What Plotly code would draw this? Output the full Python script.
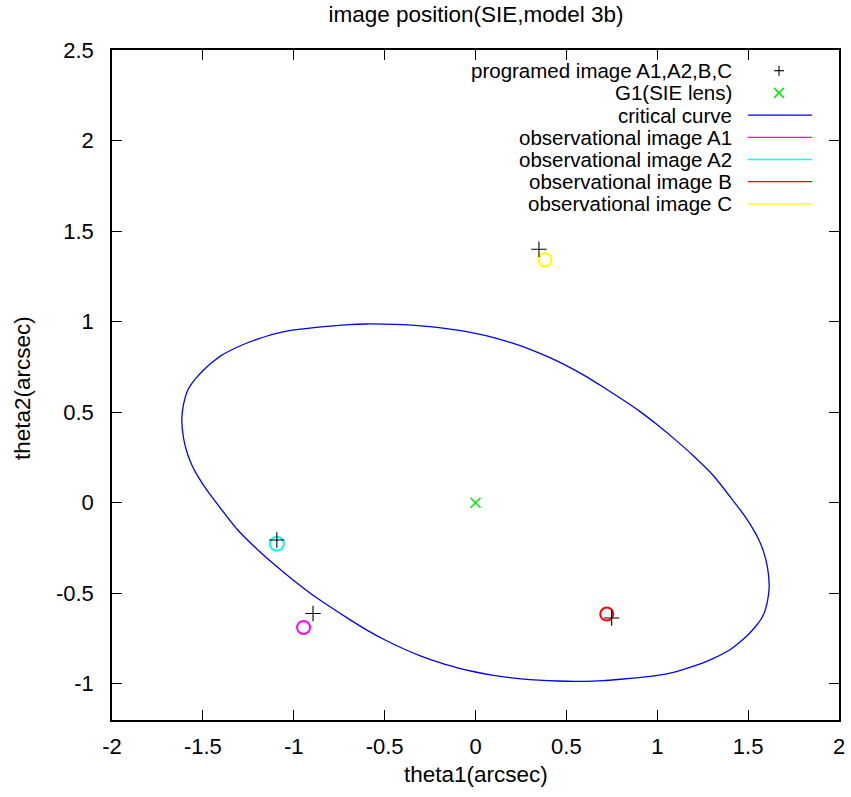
import plotly.graph_objects as go

# ---- data ----
curve_x = [1.616, 1.607, 1.585, 1.557, 1.524, 1.475, 1.414, 1.313, 1.2, 1.1, 1.0, 0.9, 0.8,
           0.7, 0.6, 0.5, 0.4, 0.3, 0.2, 0.1, 0.0, -0.1, -0.2, -0.3, -0.4, -0.5, -0.6,
           -0.7, -0.8, -0.9, -1.0, -1.1, -1.2, -1.3, -1.4, -1.45, -1.5, -1.54, -1.57,
           -1.59, -1.605, -1.613, -1.616,
           -1.607, -1.585, -1.557, -1.524, -1.475, -1.414, -1.313, -1.2, -1.1, -1.0, -0.9,
           -0.8, -0.7, -0.6, -0.5, -0.4, -0.3, -0.2, -0.1, 0.0, 0.1, 0.2, 0.3, 0.4, 0.5,
           0.6, 0.7, 0.8, 0.9, 1.0, 1.1, 1.2, 1.3, 1.4, 1.45, 1.5, 1.54, 1.57, 1.59,
           1.605, 1.613, 1.616]
curve_y = [-0.46, -0.36, -0.27, -0.20, -0.14, -0.065, 0.016, 0.145, 0.258, 0.347, 0.43,
           0.507, 0.575, 0.64, 0.702, 0.757, 0.805, 0.847, 0.882, 0.912, 0.935, 0.953,
           0.967, 0.977, 0.983, 0.986, 0.987, 0.983, 0.975, 0.966, 0.954, 0.934, 0.903,
           0.864, 0.812, 0.774, 0.729, 0.685, 0.645, 0.605, 0.55, 0.50, 0.456,
           0.36, 0.27, 0.20, 0.14, 0.065, -0.016, -0.145, -0.258, -0.347, -0.43,
           -0.507, -0.575, -0.64, -0.702, -0.757, -0.805, -0.847, -0.882, -0.912,
           -0.935, -0.953, -0.967, -0.977, -0.983, -0.986, -0.987, -0.983, -0.975,
           -0.966, -0.954, -0.934, -0.903, -0.864, -0.812, -0.774, -0.729, -0.685,
           -0.645, -0.605, -0.55, -0.50, -0.46]

prog_x = [-0.894, -1.093, 0.749, 0.349]   # A1, A2, B, C
prog_y = [-0.612, -0.206, -0.637, 1.400]

lens_x = [0.0]
lens_y = [0.0]

obs_names = ["observational image A1", "observational image A2",
             "observational image B", "observational image C"]
obs_x = [-0.946, -1.093, 0.722, 0.382]
obs_y = [-0.689, -0.227, -0.615, 1.341]
obs_colors = ["#ff00ff", "#00ffff", "#ff0000", "#ffff00"]

x_ticks = [-2, -1.5, -1, -0.5, 0, 0.5, 1, 1.5, 2]
y_ticks = [-1, -0.5, 0, 0.5, 1, 1.5, 2, 2.5]

legend_labels = ["programed image A1,A2,B,C", "G1(SIE lens)", "critical curve"] + obs_names

FONT = "Liberation Sans, Arial, sans-serif"
FS = 22.5
LEG_FS = 20.5

fig = go.Figure()

fig.add_trace(go.Scatter(x=curve_x, y=curve_y, mode="lines",
                         line=dict(color="#0000ff", width=1.3, shape="spline", smoothing=0.6),
                         name="critical curve", showlegend=False))

for i in range(len(obs_x)):
    fig.add_trace(go.Scatter(x=[obs_x[i]], y=[obs_y[i]], mode="markers",
                             marker=dict(symbol="circle-open", size=13 if i != 1 else 14,
                                         color=obs_colors[i], line=dict(width=2, color=obs_colors[i])),
                             name=obs_names[i], showlegend=False))

fig.add_trace(go.Scatter(x=prog_x, y=prog_y, mode="markers",
                         marker=dict(symbol="cross-thin", size=11, color="black",
                                     line=dict(width=1.1, color="black")),
                         name="programed image A1,A2,B,C", showlegend=False))

fig.add_trace(go.Scatter(x=lens_x, y=lens_y, mode="markers",
                         marker=dict(symbol="x-thin", size=10, color="#00ee00",
                                     line=dict(width=1.5, color="#00ee00")),
                         name="G1(SIE lens)", showlegend=False))

# ---- custom gnuplot-style key (text right, sample left) ----
L, R, T, B = 112, 839, 50, 720
PW, PH = float(R - L), float(B - T)
rows_px = [70.7, 92.9, 115.1, 137.3, 159.5, 181.7, 203.9]
text_right = (733 - L) / PW
s0, s1 = (748 - L) / PW, (812 - L) / PW
smid = (779 - L) / PW
shapes = []
annotations = []
sample_colors = [None, None, "#0000ff"] + obs_colors
for i, lab in enumerate(legend_labels):
    yp = (B - rows_px[i]) / PH
    annotations.append(dict(x=text_right, y=yp, xref="paper", yref="paper",
                            text=lab, showarrow=False, xanchor="right", yanchor="middle",
                            borderpad=0,
                            font=dict(family=FONT, size=LEG_FS, color="black")))
    if i == 0:
        dx, dy = 5 / PW, 5 / PH
        shapes.append(dict(type="line", xref="paper", yref="paper", x0=smid - dx, x1=smid + dx,
                           y0=yp, y1=yp, line=dict(color="black", width=1.1)))
        shapes.append(dict(type="line", xref="paper", yref="paper", x0=smid, x1=smid,
                           y0=yp - dy, y1=yp + dy, line=dict(color="black", width=1.1)))
    elif i == 1:
        dx, dy = 5 / PW, 5 / PH
        shapes.append(dict(type="line", xref="paper", yref="paper", x0=smid - dx, x1=smid + dx,
                           y0=yp - dy, y1=yp + dy, line=dict(color="#00ee00", width=1.5)))
        shapes.append(dict(type="line", xref="paper", yref="paper", x0=smid - dx, x1=smid + dx,
                           y0=yp + dy, y1=yp - dy, line=dict(color="#00ee00", width=1.5)))
    else:
        shapes.append(dict(type="line", xref="paper", yref="paper", x0=s0, x1=s1,
                           y0=yp, y1=yp, line=dict(color=sample_colors[i], width=1.3)))

# axis titles as annotations (fixed positions like the reference)
annotations.append(dict(x=0.5, y=(B - 775) / PH, xref="paper", yref="paper",
                        text="theta1(arcsec)", showarrow=False, xanchor="center", yanchor="middle",
                        font=dict(family=FONT, size=FS, color="black")))
annotations.append(dict(x=(22 - L) / PW, y=(B - 388) / PH, xref="paper", yref="paper",
                        text="theta2(arcsec)", showarrow=False, textangle=-90,
                        xanchor="center", yanchor="middle",
                        font=dict(family=FONT, size=FS, color="black")))

fig.update_layout(
    width=851, height=797,
    margin=dict(l=L, r=851 - R, t=T, b=797 - B),
    paper_bgcolor="white", plot_bgcolor="white",
    font=dict(family=FONT, size=22, color="black"),
    showlegend=False,
    title=dict(text="image position(SIE,model 3b)", x=476 / 851, xanchor="center",
               y=1 - 14 / 797, yref="container", yanchor="middle",
               font=dict(family=FONT, size=FS, color="black")),
    shapes=shapes, annotations=annotations,
)

fig.update_xaxes(range=[-2, 2], tickvals=x_ticks, ticktext=[f"{v:g}" for v in x_ticks],
                 ticks="inside", ticklen=10, tickwidth=1.2, tickcolor="black",
                 showline=True, linecolor="black", linewidth=1.5, mirror="ticks",
                 showgrid=False, zeroline=False, ticklabelstandoff=6, automargin=False,
                 tickfont=dict(family=FONT, size=22))
fig.update_yaxes(range=[-1.2, 2.5], tickvals=y_ticks, ticktext=[f"{v:g}" for v in y_ticks],
                 ticks="inside", ticklen=10, tickwidth=1.2, tickcolor="black",
                 showline=True, linecolor="black", linewidth=1.5, mirror="ticks",
                 showgrid=False, zeroline=False, ticklabelstandoff=12, automargin=False,
                 tickfont=dict(family=FONT, size=22))

fig.write_html("out.html")
